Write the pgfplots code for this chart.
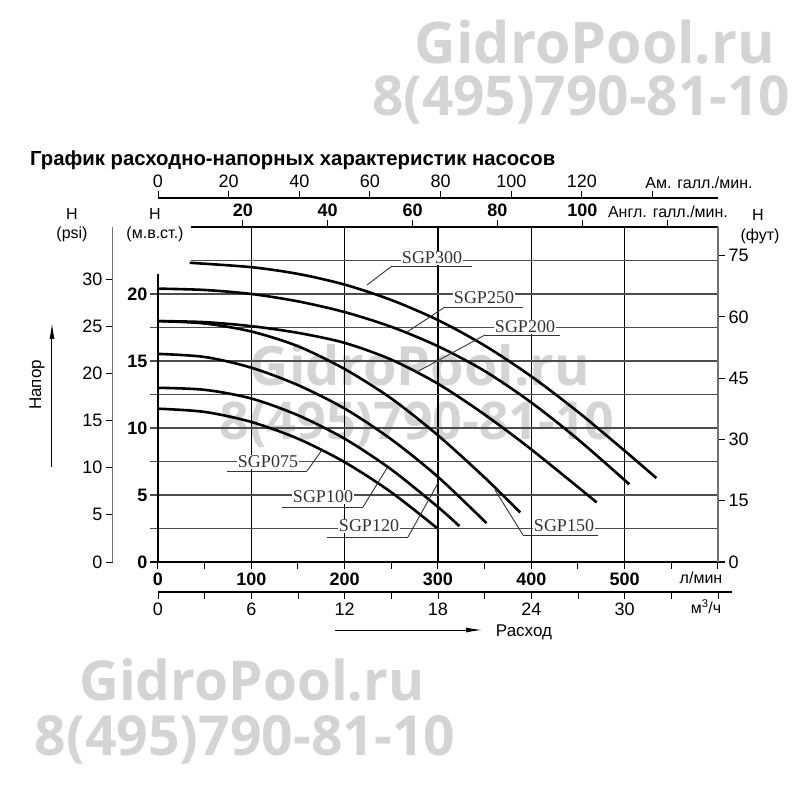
\documentclass[border=0pt]{standalone}
\usepackage{pgfplots}
\pgfplotsset{compat=1.18}
\usepackage{pgfplotstable}
\usepackage{fontspec}
\setmainfont{Liberation Sans}
\newfontfamily\sgpfont{Liberation Serif}
\newfontfamily\wmfont{Open Sans}
\usetikzlibrary{arrows.meta}

\newcommand\tickb{\fontsize{18}{18}\selectfont\bfseries}
\newcommand\tickn{\fontsize{18}{18}\selectfont}
\newcommand\lab{\fontsize{16}{16}\selectfont}
\newcommand\sgp{\sgpfont\fontsize{18}{18}\selectfont}

\pgfplotstableread{
x y
34 22.33
100 22.0
150 21.5
200 20.7
250 19.55
300 18.05
350 16.15
400 13.85
450 11.2
500 8.3
534 6.26
}\tabA
\pgfplotstableread{
x y
0 20.4
50 20.3
100 20.0
150 19.45
200 18.65
250 17.55
300 16.1
350 14.25
400 11.9
450 9.15
505 5.8
}\tabB
\pgfplotstableread{
x y
0 17.98
50 17.9
100 17.6
150 17.1
200 16.35
250 15.1
300 13.3
350 11.0
400 8.4
470 4.45
}\tabC
\pgfplotstableread{
x y
0 17.98
50 17.8
100 17.2
150 16.1
200 14.4
250 12.2
300 9.45
350 6.3
388 3.7
}\tabD
\pgfplotstableread{
x y
0 15.53
50 15.3
100 14.5
150 13.2
200 11.45
250 9.15
300 6.35
352 2.9
}\tabE
\pgfplotstableread{
x y
0 13.0
50 12.85
100 12.2
150 10.95
200 9.2
250 6.9
300 4.1
323 2.67
}\tabF
\pgfplotstableread{
x y
0 11.44
50 11.2
100 10.45
150 9.2
200 7.45
250 5.2
299 2.53
}\tabG

\pgfplotsset{
  base/.style={width=560pt,height=335pt,scale only axis,
    xmin=0,xmax=600,ymin=0,ymax=25,at={(0pt,0pt)},anchor=south west,
    /pgf/number format/assume math mode=true,
    tick style={black,line width=1pt},
    major tick length=7pt,minor tick length=7pt,
    tick align=outside},
  curve/.style={black,line width=2.6pt,smooth,no markers},
}

\begin{document}
\begin{tikzpicture}
\path[use as bounding box] (-158pt,-238pt) rectangle (642pt,562pt);
% watermarks
\begin{scope}[shift={(-158pt,562pt)},x=1pt,y=-1pt]
\begin{scope}[black!17,font=\wmfont\bfseries]
\node at (595,42) {\resizebox{360pt}{!}{GidroPool.ru}};
\node at (581,100) {\resizebox{418pt}{!}{8(495)790-81-10}};
\node at (252,680) {\resizebox{345pt}{!}{GidroPool.ru}};
\node at (245,740) {\resizebox{420pt}{!}{8(495)790-81-10}};
\node at (420,365) {\resizebox{340pt}{!}{GidroPool.ru}};
\node at (417,425) {\resizebox{395pt}{!}{8(495)790-81-10}};
\end{scope}
\end{scope}

% main axis
\begin{axis}[base,clip=false,axis line style={draw=none},
  xtick={0,100,...,500},minor xtick={50,150,...,550,600},
  ytick={0,5,...,20},xtick pos=bottom,ytick pos=left,
  xticklabel style={font=\tickb},yticklabel style={font=\tickb}]
\pgfplotsinvokeforeach{100,200,300,400,500}{
  \draw[black,line width=1.2pt] (axis cs:#1,0) -- (axis cs:#1,25);}
\pgfplotsinvokeforeach{2.5,5,7.5,10,12.5,15,17.5,20}{
  \draw[black!70,line width=1.3pt] ([xshift=-8pt]axis cs:0,#1) -- (axis cs:600,#1);}
\draw[black!70,line width=1.3pt] (axis cs:35,22.5) -- (axis cs:600,22.5);
\draw[black,line width=1.3pt] (axis cs:0,21.5) -- (axis cs:0,0);
\draw[black,line width=1.3pt] (axis cs:35,25) -- (axis cs:600,25);
\draw[black,line width=1.3pt] ([xshift=-8pt]axis cs:0,0) -- ([xshift=7pt]axis cs:600,0);
\addplot[curve] table {\tabA};
\addplot[curve] table {\tabB};
\addplot[curve] table {\tabC};
\addplot[curve] table {\tabD};
\addplot[curve] table {\tabE};
\addplot[curve] table {\tabF};
\addplot[curve] table {\tabG};
\end{axis}

% feet axis (right)
\begin{axis}[base,ymin=0,ymax=82.021,axis x line=none,axis y line*=right,
  ytick={0,15,...,75},yticklabel style={font=\tickn},
  axis line style={black!55,line width=1.3pt},tick align=outside]
\end{axis}

% psi axis (left)
\begin{axis}[base,at={(-45pt,0pt)},ymin=0,ymax=35.558,axis x line=none,axis y line*=left,
  ytick={0,5,...,30},yticklabel style={font=\tickn},
  axis line style={black!55,line width=1pt},tick align=outside]
\end{axis}

% US gallons (top)
\begin{axis}[base,at={(0pt,29pt)},xmin=0,xmax=158.503,axis y line=none,axis x line*=top,
  xtick={0,20,...,140},xticklabels={0,20,40,60,80,100,120,{}},
  xticklabel style={font=\tickn},
  axis line style={black,line width=1.3pt},tick align=outside]
\end{axis}

% UK gallons (top of box)
\begin{axis}[base,xmin=0,xmax=131.98,axis y line=none,axis x line*=top,
  xtick={20,40,...,120},xticklabels={20,40,60,80,100,{}},
  xticklabel style={font=\tickb},
  axis line style={draw=none},tick align=outside]
\end{axis}

% m3/h (bottom)
\begin{axis}[base,at={(0pt,-30pt)},xmin=0,xmax=36,axis y line=none,axis x line*=bottom,
  xtick={0,6,...,30},minor xtick={3,9,...,33,36},
  xticklabel style={font=\tickn},
  axis line style={black,line width=1.3pt,shorten >=-14pt},tick align=outside]
\end{axis}

% texts and leaders
\begin{scope}[shift={(-158pt,562pt)},x=1pt,y=-1pt]
\node[anchor=west,font=\bfseries,inner sep=0pt] at (30,160)
  {\resizebox{525pt}{!}{График расходно-напорных характеристик насосов}};
\node[font=\lab] at (699,183) {Ам. галл./мин.};
\node[font=\lab,fill=white,inner sep=1pt] at (668,212) {Англ. галл./мин.};
\node[font=\lab] at (72,214) {H};
\node[font=\lab] at (72,234) {(psi)};
\node[font=\lab] at (155,214) {H};
\node[font=\lab] at (155,234) {(м.в.ст.)};
\node[font=\lab] at (758,215) {H};
\node[font=\lab] at (760,236) {(фут)};
\node[font=\lab] at (701,578) {л/мин};
\node[font=\lab] at (706,607) {м\textsuperscript{3}/ч};
\node[font=\fontsize{17}{17}\selectfont] at (524,632) {Расход};
\draw[line width=1pt,-{Latex[length=16pt,width=5pt]}] (335,630) -- (482,630);
\node[font=\fontsize{17}{17}\selectfont,rotate=90] at (37,385) {Напор};
\draw[line width=1pt,-{Latex[length=16pt,width=5pt]}] (52,467) -- (52,323);
% SGP labels
\begin{scope}[line width=0.9pt,black!80]
\node[font=\sgp,fill=white,inner sep=1pt] at (432,258) {SGP300};
\draw (392,266) -- (472,266); \draw (392,266) -- (367,285);
\node[font=\sgp,fill=white,inner sep=1pt] at (484,298) {SGP250};
\draw (445,307) -- (523,307); \draw (445,307) -- (407,332);
\node[font=\sgp,fill=white,inner sep=1pt] at (525,327) {SGP200};
\draw (485,335) -- (560,335); \draw (485,335) -- (415,373);
\node[font=\sgp,fill=white,inner sep=1pt] at (268,462) {SGP075};
\draw (227,471) -- (307,471); \draw (307,471) -- (322,450);
\node[font=\sgp,fill=white,inner sep=1pt] at (323,497) {SGP100};
\draw (282,507) -- (363,507); \draw (363,507) -- (387,468);
\node[font=\sgp,fill=white,inner sep=1pt] at (369,526) {SGP120};
\draw (327,537) -- (408,537); \draw (408,537) -- (438,483);
\node[font=\sgp,fill=white,inner sep=1pt] at (564,526) {SGP150};
\draw (523,535) -- (598,535); \draw (523,535) -- (495,490);
\end{scope}
\end{scope}
\end{tikzpicture}
\end{document}
